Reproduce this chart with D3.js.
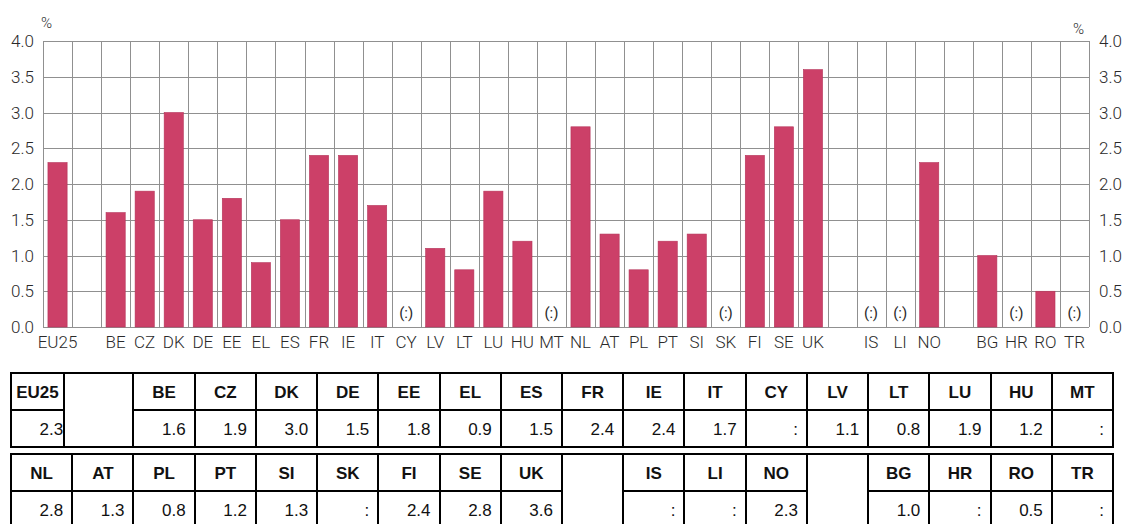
<!DOCTYPE html>
<html>
<head>
<meta charset="utf-8">
<script src="https://cdn.jsdelivr.net/npm/d3@7"></script>
<style>
  body { margin: 0; background: #fff; }
  svg { display: block; }
  .tick-label, .cat-label, .na-label, .unit { font-family: Roboto, sans-serif; font-weight: 300; fill: #2a2a2a; }
  .th { font-family: "Liberation Sans", Arial, sans-serif; font-weight: bold; font-size: 17px; fill: #111; }
  .td { font-family: "Liberation Sans", Arial, sans-serif; font-size: 17px; fill: #111; }
</style>
</head>
<body>
<div class="container"></div>
<script>
// chart categories ('' = empty slot between country groups)
const categories = ['EU25', '', 'BE', 'CZ', 'DK', 'DE', 'EE', 'EL', 'ES', 'FR', 'IE', 'IT', 'CY', 'LV', 'LT',
  'LU', 'HU', 'MT', 'NL', 'AT', 'PL', 'PT', 'SI', 'SK', 'FI', 'SE', 'UK', '', 'IS', 'LI', 'NO', '', 'BG', 'HR', 'RO', 'TR'];
// values in %, null = not available (:)
const values = [2.3, null, 1.6, 1.9, 3.0, 1.5, 1.8, 0.9, 1.5, 2.4, 2.4, 1.7, null, 1.1, 0.8,
  1.9, 1.2, null, 2.8, 1.3, 0.8, 1.2, 1.3, null, 2.4, 2.8, 3.6, null, null, null, 2.3, null, 1.0, null, 0.5, null];
const blanks = [false, true, false, false, false, false, false, false, false, false, false, false, false, false, false,
  false, false, false, false, false, false, false, false, false, false, false, false, true, false, false, false, true, false, false, false, false];
const yTicks = [0, 0.5, 1.0, 1.5, 2.0, 2.5, 3.0, 3.5, 4.0];
const tableRow1 = ['EU25', '', 'BE', 'CZ', 'DK', 'DE', 'EE', 'EL', 'ES', 'FR', 'IE', 'IT', 'CY', 'LV', 'LT', 'LU', 'HU', 'MT'];
const tableRow2 = ['NL', 'AT', 'PL', 'PT', 'SI', 'SK', 'FI', 'SE', 'UK', '', 'IS', 'LI', 'NO', '', 'BG', 'HR', 'RO', 'TR'];

const width = 1125;
const height = 524;
const plot = { left: 43, right: 1089, top: 41, bottom: 327 };

const data = categories.map((c, i) => ({ key: c + '_' + i, name: c, value: values[i], blank: blanks[i] }));
const valueOf = {};
data.forEach(d => { if (!d.blank) valueOf[d.name] = d.value; });

const svg = d3.select('.container')
  .append('svg')
  .attr('width', width)
  .attr('height', height);

// Scales
const xScale = d3.scaleBand()
  .domain(data.map(d => d.key))
  .range([plot.left, plot.right]);

const yScale = d3.scaleLinear()
  .domain([0, 4])
  .range([plot.bottom, plot.top]);

// Grid: horizontal
svg.append('g')
  .selectAll('line')
  .data(yTicks)
  .enter()
  .append('line')
  .attr('x1', plot.left)
  .attr('x2', plot.right)
  .attr('y1', d => Math.round(yScale(d)) + 0.5)
  .attr('y2', d => Math.round(yScale(d)) + 0.5)
  .attr('stroke', '#909090')
  .attr('stroke-width', 1);

// Grid: vertical at category boundaries
const bounds = data.map(d => xScale(d.key)).concat([plot.right]);
svg.append('g')
  .selectAll('line')
  .data(bounds)
  .enter()
  .append('line')
  .attr('x1', d => Math.round(d) + 0.5)
  .attr('x2', d => Math.round(d) + 0.5)
  .attr('y1', plot.top)
  .attr('y2', plot.bottom)
  .attr('stroke', '#909090')
  .attr('stroke-width', 1);

// Bars
const barW = xScale.bandwidth() * 0.66;
svg.append('g')
  .selectAll('rect')
  .data(data.filter(d => d.value !== null))
  .enter()
  .append('rect')
  .attr('x', d => xScale(d.key) + (xScale.bandwidth() - barW) / 2)
  .attr('y', d => yScale(d.value))
  .attr('width', barW)
  .attr('height', d => yScale(0) - yScale(d.value))
  .attr('fill', '#cc4068')
  .attr('stroke', '#b5345a')
  .attr('stroke-width', 0.6);

// (:) markers
svg.append('g')
  .selectAll('text')
  .data(data.filter(d => d.value === null && !d.blank))
  .enter()
  .append('text')
  .attr('class', 'na-label')
  .attr('x', d => xScale(d.key) + xScale.bandwidth() / 2)
  .attr('y', yScale(0.13))
  .attr('text-anchor', 'middle')
  .style('font-size', '15px')
  .style('font-weight', 400)
  .text('(:)');

// Category labels
svg.append('g')
  .selectAll('text')
  .data(data.filter(d => !d.blank))
  .enter()
  .append('text')
  .attr('class', 'cat-label')
  .attr('x', d => xScale(d.key) + xScale.bandwidth() / 2)
  .attr('y', plot.bottom + 21)
  .attr('text-anchor', 'middle')
  .style('font-size', '17px')
  .text(d => d.name);

// Y tick labels, both sides
svg.append('g')
  .selectAll('text')
  .data(yTicks)
  .enter()
  .append('text')
  .attr('class', 'tick-label')
  .attr('x', plot.left - 9)
  .attr('y', d => yScale(d) + 6)
  .attr('text-anchor', 'end')
  .style('font-size', '17px')
  .text(d3.format('.1f'));

svg.append('g')
  .selectAll('text')
  .data(yTicks)
  .enter()
  .append('text')
  .attr('class', 'tick-label')
  .attr('x', plot.right + 10)
  .attr('y', d => yScale(d) + 6)
  .attr('text-anchor', 'start')
  .style('font-size', '17px')
  .text(d3.format('.1f'));

svg.append('text').attr('class', 'unit').attr('x', 41).attr('y', 28).style('font-size', '15px').text('%');
svg.append('text').attr('class', 'unit').attr('x', 1073).attr('y', 34).style('font-size', '15px').text('%');

// Data table
const colScale = d3.scaleBand()
  .domain(d3.range(18))
  .range([11, 1113]);

function drawTable(row, top, firstEdge) {
  const rowH = 37;
  const g = svg.append('g');
  const edges = d3.range(1, 18).map(i => colScale(i));
  if (firstEdge) edges[0] = firstEdge;
  const lineAt = v => Math.round(v);

  // horizontal middle line, skipped under empty cells
  row.forEach((name, i) => {
    if (name === '') return;
    const x0 = i === 0 ? 11 : edges[i - 1];
    const x1 = i === 17 ? 1113 : edges[i];
    g.append('line')
      .attr('x1', x0).attr('x2', x1)
      .attr('y1', top + rowH).attr('y2', top + rowH)
      .attr('stroke', '#000').attr('stroke-width', 2);
  });

  g.selectAll('line.v')
    .data(edges)
    .enter()
    .append('line')
    .attr('class', 'v')
    .attr('x1', d => lineAt(d)).attr('x2', d => lineAt(d))
    .attr('y1', top).attr('y2', top + 2 * rowH)
    .attr('stroke', '#000').attr('stroke-width', 2);

  g.append('rect')
    .attr('x', 11).attr('y', top)
    .attr('width', 1102).attr('height', 2 * rowH)
    .attr('fill', 'none').attr('stroke', '#000').attr('stroke-width', 2);

  const cells = row.map((name, i) => ({
    name,
    x0: i === 0 ? 11 : edges[i - 1],
    x1: i === 17 ? 1113 : edges[i],
    right: colScale(i) + colScale.bandwidth()
  })).filter(d => d.name !== '');

  g.selectAll('text.th')
    .data(cells)
    .enter()
    .append('text')
    .attr('class', 'th')
    .attr('x', d => (d.x0 + d.x1) / 2)
    .attr('y', top + rowH / 2 + 6)
    .attr('text-anchor', 'middle')
    .text(d => d.name);

  g.selectAll('text.td')
    .data(cells)
    .enter()
    .append('text')
    .attr('class', 'td')
    .attr('x', d => d.right - 9)
    .attr('y', top + rowH * 1.5 + 6)
    .attr('text-anchor', 'end')
    .text(d => valueOf[d.name] === null ? ':' : d3.format('.1f')(valueOf[d.name]));
}

drawTable(tableRow1, 373, 64);
drawTable(tableRow2, 454, null);
</script>
</body>
</html>
